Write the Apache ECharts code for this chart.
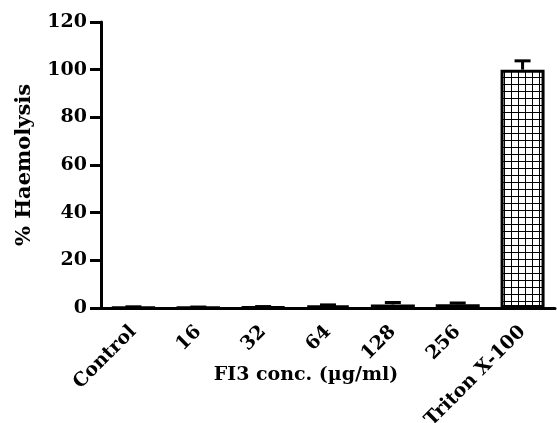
<!DOCTYPE html>
<html>
<head>
  <meta charset="utf-8">
  <title>Haemolysis</title>
  <script src="https://cdn.jsdelivr.net/npm/echarts@6/dist/echarts.min.js"></script>
</head>
<body style="margin:0;background:#fff">
<div id="main" style="width:557px;height:423px"></div>
<script type="text/javascript">
    // data
    var categories = ['Control', '16', '32', '64', '128', '256', 'Triton X-100'];
    var haemolysis = [0.3, 0.2, 0.4, 1.0, 1.5, 1.6, 100];
    var errors = [0.2, 0.2, 0.2, 0.3, 0.8, 0.5, 3.7];
    var yTicks = [0, 20, 40, 60, 80, 100, 120];

    var font = 'DejaVu Serif';

    // small square-grid pattern for the bar fill
    var cell = document.createElement('canvas');
    cell.width = 7;
    cell.height = 7;
    var ctx = cell.getContext('2d');
    ctx.fillStyle = '#fff';
    ctx.fillRect(0, 0, 7, 7);
    ctx.fillStyle = '#000';
    ctx.fillRect(0, 0, 7, 1);
    ctx.fillRect(0, 0, 1, 7);

    var myChart = echarts.init(document.getElementById('main'));

    var errData = haemolysis.map(function (v, i) { return [i, v, v + errors[i]]; });

    option = {
        animation: false,
        grid: {left: 101, right: 2, top: 22, bottom: 115, outerBoundsMode: 'none'},
        xAxis: {
            type: 'category',
            data: categories,
            name: 'FI3 conc. (µg/ml)',
            nameLocation: 'middle',
            nameGap: 58,
            nameMoveOverlap: false,
            nameTextStyle: {fontFamily: font, fontWeight: 'bold', fontSize: 19, color: '#000', padding: [0, 44, 0, 0]},
            axisLine: {lineStyle: {color: '#000', width: 3}},
            axisTick: {alignWithLabel: true, length: 9, lineStyle: {color: '#000', width: 3}},
            axisLabel: {rotate: 45, margin: 21, fontFamily: font, fontWeight: 'bold', fontSize: 19, color: '#000'}
        },
        yAxis: {
            type: 'value',
            min: yTicks[0],
            max: yTicks[yTicks.length - 1],
            interval: 20,
            name: '% Haemolysis',
            nameLocation: 'middle',
            nameGap: 66,
            nameTextStyle: {fontFamily: font, fontWeight: 'bold', fontSize: 21, color: '#000'},
            splitLine: {show: false},
            axisLine: {show: true, lineStyle: {color: '#000', width: 3}},
            axisTick: {show: true, length: 11, lineStyle: {color: '#000', width: 3}},
            axisLabel: {margin: 14, fontFamily: font, fontWeight: 'bold', fontSize: 19, color: '#000'}
        },
        series: [{
            type: 'bar',
            data: haemolysis,
            barWidth: 44,
            itemStyle: {
                color: {image: cell, repeat: 'repeat'},
                borderColor: '#000',
                borderWidth: 3
            }
        }, {
            type: 'custom',
            data: errData,
            z: 1,
            renderItem: function (params, api) {
                var base = api.coord([api.value(0), api.value(1)]);
                var top = api.coord([api.value(0), api.value(2)]);
                var half = 8;
                return {
                    type: 'group',
                    children: [{
                        type: 'line',
                        shape: {x1: base[0], y1: base[1], x2: top[0], y2: top[1]},
                        style: {stroke: '#000', lineWidth: 3}
                    }, {
                        type: 'line',
                        shape: {x1: top[0] - half, y1: top[1], x2: top[0] + half, y2: top[1]},
                        style: {stroke: '#000', lineWidth: 3}
                    }]
                };
            }
        }]
    };

    myChart.setOption(option);
</script>
</body>
</html>
